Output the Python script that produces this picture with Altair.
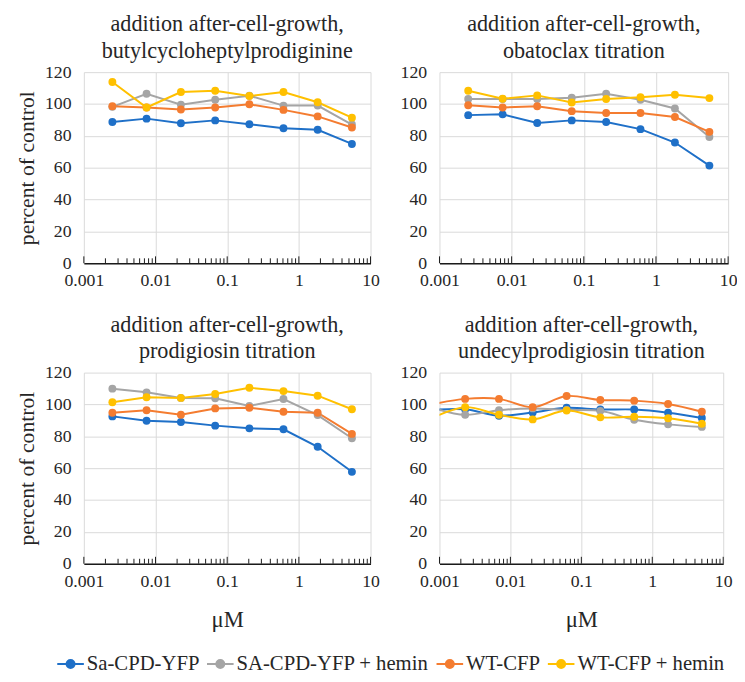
import altair as alt
import pandas as pd

SERIES = ["Sa-CPD-YFP", "SA-CPD-YFP + hemin", "WT-CFP", "WT-CFP + hemin"]
COLORS = ["#1f70c8", "#a5a5a5", "#f47c30", "#ffc000"]

CONC_A = [0.0025, 0.0075, 0.0226, 0.068, 0.204, 0.61, 1.83, 5.5]
CONC_B = [0.00076, 0.0023, 0.0069, 0.0206, 0.062, 0.185, 0.556, 1.67, 5.0]

# butylcycloheptylprodiginine
TL_BLUE = [88.7, 90.8, 87.9, 89.7, 87.3, 84.8, 83.8, 74.9]
TL_GRAY = [98.2, 106.4, 99.6, 102.7, 105.2, 99.0, 99.0, 87.1]
TL_ORANGE = [98.6, 97.8, 96.5, 97.8, 99.8, 96.3, 92.2, 85.2]
TL_YELLOW = [113.8, 97.8, 107.5, 108.3, 105.0, 107.5, 101.1, 91.4]

# obatoclax
TR_BLUE = [93.0, 93.5, 88.1, 89.7, 88.7, 84.2, 75.8, 61.3]
TR_GRAY = [103.1, 103.1, 103.1, 103.9, 106.4, 102.7, 97.2, 79.3]
TR_ORANGE = [99.2, 97.8, 98.6, 95.5, 94.3, 94.3, 91.8, 82.5]
TR_YELLOW = [108.3, 103.3, 105.4, 100.9, 103.1, 104.2, 105.8, 103.7]

# prodigiosin
BL_BLUE = [92.5, 89.8, 89.0, 86.7, 85.0, 84.4, 73.4, 57.7]
BL_GRAY = [109.9, 107.6, 104.1, 103.9, 99.1, 103.4, 93.3, 78.8]
BL_ORANGE = [94.8, 96.4, 93.5, 97.5, 97.9, 95.4, 94.8, 81.5]
BL_YELLOW = [101.4, 104.5, 104.1, 106.6, 110.5, 108.4, 105.5, 97.0]

# undecylprodigiosin
BR_BLUE = [96.5, 97.0, 92.9, 95.0, 97.9, 96.8, 96.8, 94.8, 91.5]
BR_GRAY = [98.2, 93.5, 96.4, 97.5, 96.6, 96.0, 90.4, 87.5, 85.9]
BR_ORANGE = [99.9, 103.5, 103.5, 98.3, 105.3, 102.8, 102.4, 100.3, 95.4]
BR_YELLOW = [91.1, 98.3, 93.5, 90.6, 96.2, 91.9, 92.3, 91.3, 87.9]

X_LABELS = [0.001, 0.01, 0.1, 1, 10]
Y_TICKS = [0, 20, 40, 60, 80, 100, 120]
MINOR = [k * d for d in [0.001, 0.01, 0.1, 1] for k in range(2, 10)]

FONT = "Liberation Serif"
TXT = "#262626"
H = 194


def make_df(conc, values):
    rows = []
    for name, vals in zip(SERIES, values):
        for c, v in zip(conc, vals):
            rows.append({"conc": c, "pct": v, "series": name})
    return pd.DataFrame(rows)


def panel(title, conc, values, width, ytitle, xtitle, interp):
    df = make_df(conc, values)
    xscale = alt.Scale(type="log", domain=[0.001, 10], nice=False)
    xaxis = alt.Axis(values=X_LABELS, format="~g", grid=True, gridColor="#d9d9d9",
                     ticks=False, domainColor="#1a1a1a", domainWidth=1.5,
                     labelFlush=False, labelAlign="center", labelPadding=9,
                     labelFont=FONT, labelFontSize=18, labelColor=TXT,
                     title=xtitle if xtitle else None,
                     titleFont=FONT, titleFontSize=23, titleColor=TXT,
                     titleFontWeight="normal", titlePadding=19)
    yaxis = alt.Axis(values=Y_TICKS, grid=True, gridColor="#d9d9d9", ticks=False,
                     domain=False, labelPadding=13,
                     labelFont=FONT, labelFontSize=18, labelColor=TXT,
                     title=ytitle if ytitle else None,
                     titleFont=FONT, titleFontSize=22, titleColor=TXT,
                     titleFontWeight="normal", titlePadding=6)
    x = alt.X("conc:Q", scale=xscale, axis=xaxis)
    y = alt.Y("pct:Q", scale=alt.Scale(domain=[0, 120], nice=False), axis=yaxis)
    color = alt.Color("series:N", scale=alt.Scale(domain=SERIES, range=COLORS),
                      legend=alt.Legend(
                          title=None, orient="none", direction="horizontal", columns=4,
                          legendX=-28, legendY=586,
                          symbolType="M-1,0L1,0M-0.3,0A0.3,0.3,0,1,1,0.3,0A0.3,0.3,0,1,1,-0.3,0Z",
                          symbolSize=729, symbolStrokeWidth=2,
                          labelFont=FONT, labelFontSize=21, labelColor=TXT,
                          labelOffset=2, columnPadding=3, labelLimit=300))
    base = alt.Chart(df)
    line = base.mark_line(strokeWidth=2, interpolate=interp, clip=True).encode(
        x=x, y=y, color=color, detail="series:N")
    pts = base.mark_circle(size=64, opacity=1, clip=True).encode(
        x=x, y=y, color=color)
    minor = alt.Chart(pd.DataFrame({"t": MINOR})).mark_rule(color="#1a1a1a", strokeWidth=1).encode(
        x=alt.X("t:Q", scale=xscale), y=alt.value(H), y2=alt.value(H - 5))
    major = alt.Chart(pd.DataFrame({"t": X_LABELS})).mark_rule(color="#1a1a1a", strokeWidth=1).encode(
        x=alt.X("t:Q", scale=xscale), y=alt.value(H), y2=alt.value(H - 7))
    return alt.layer(line, pts, minor, major).properties(
        width=width, height=H,
        title=alt.TitleParams(title, font=FONT, fontSize=22.5, fontWeight="normal",
                              color=TXT, lineHeight=27, offset=1, anchor="middle"))


tl = panel(["addition after-cell-growth,", "butylcycloheptylprodiginine"], CONC_A,
           [TL_BLUE, TL_GRAY, TL_ORANGE, TL_YELLOW], 291, "percent of control", None, "linear")
tr = panel(["addition after-cell-growth,", "obatoclax titration"], CONC_A,
           [TR_BLUE, TR_GRAY, TR_ORANGE, TR_YELLOW], 293, None, None, "linear")
bl = panel(["addition after-cell-growth,", "prodigiosin titration"], CONC_A,
           [BL_BLUE, BL_GRAY, BL_ORANGE, BL_YELLOW], 291, "percent of control", "μM", "linear")
br = panel(["addition after-cell-growth,", "undecylprodigiosin titration"], CONC_B,
           [BR_BLUE, BR_GRAY, BR_ORANGE, BR_YELLOW], 288, None, "μM", "catmull-rom")

chart = alt.concat(tl, tr, bl, br, columns=2,
                   spacing=alt.RowColnumber(row=111, column=70),
                   bounds="flush").configure_axis(
    labelFont=FONT, titleFont=FONT
).configure_view(stroke=None).properties(
    background="white", padding={"left": 8, "top": 0, "right": 0, "bottom": 5})

chart.save("out.html", embed_options={"renderer": "svg", "actions": False})
